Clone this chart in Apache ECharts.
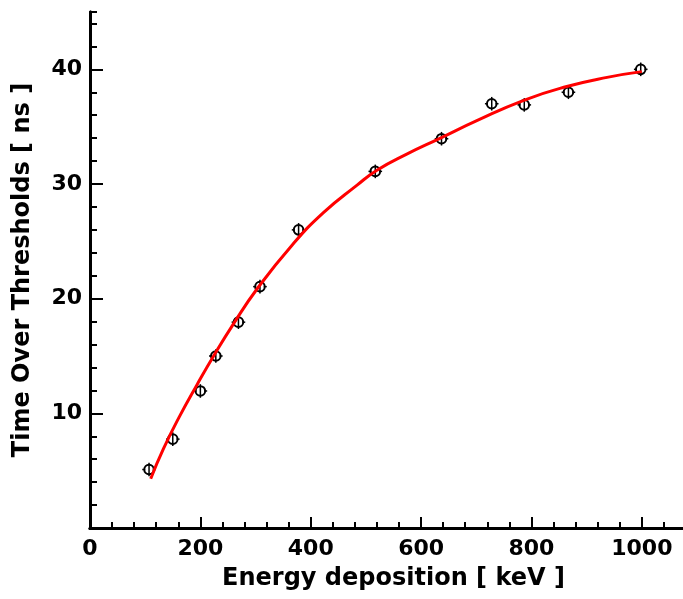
<!DOCTYPE html>
<html>
<head>
<meta charset="utf-8">
<script src="https://cdn.jsdelivr.net/npm/echarts@6/dist/echarts.min.js"></script>
<style>
  html, body { margin: 0; padding: 0; background: #fff; }
  #chart { width: 683px; height: 599px; }
</style>
</head>
<body>
<div id="chart"></div>
<script>
// measured points
var energy = [107, 150, 200, 228, 269, 308, 378, 517, 637, 728, 787, 867, 998];
var tot = [5.1, 7.75, 11.95, 15.0, 17.95, 21.05, 26.0, 31.1, 33.95, 37.0, 36.9, 38.0, 40.0];

// fitted curve
var fitEnergy = [110, 133, 163, 194, 224, 260, 302, 365, 423, 484, 520, 574, 635, 700, 786, 864, 937, 1000];
var fitTot = [4.3, 6.9, 9.8, 12.5, 15.0, 17.8, 20.8, 24.6, 27.5, 29.9, 31.2, 32.6, 34.0, 35.5, 37.3, 38.5, 39.3, 39.8];

var yTicks = [10, 20, 30, 40];

var font = 'DejaVu Sans';
var black = '#000';

var points = energy.map(function (e, i) { return [e, tot[i]]; });
var fit = fitEnergy.map(function (e, i) { return [e, fitTot[i]]; });

function renderPoint(params, api) {
    var p = api.coord([api.value(0), api.value(1)]);
    var r = 4.8;
    return {
        type: 'group',
        children: [
            { type: 'circle', shape: { cx: p[0], cy: p[1], r: r },
              style: { fill: 'none', stroke: black, lineWidth: 2 } },
            { type: 'line', shape: { x1: p[0], y1: p[1] - r - 2, x2: p[0], y2: p[1] + r + 2 },
              style: { stroke: black, lineWidth: 1.5 } },
            { type: 'line', shape: { x1: p[0] - r - 2, y1: p[1], x2: p[0] - r + 1, y2: p[1] },
              style: { stroke: black, lineWidth: 1.5 } },
            { type: 'line', shape: { x1: p[0] + r - 1, y1: p[1], x2: p[0] + r + 2, y2: p[1] },
              style: { stroke: black, lineWidth: 1.5 } }
        ]
    };
}

var frame = { show: true, lineStyle: { color: black, width: 3 } };
var label = { color: black, fontFamily: font, fontWeight: 'bold', fontSize: 22 };
var title = { color: black, fontFamily: font, fontWeight: 'bold', fontSize: 24 };
var rect = { left: 90, top: 12, width: 607, height: 516, outerBoundsMode: 'none', containLabel: false };

var chart = echarts.init(document.getElementById('chart'));

var option = {
    animation: false,
    grid: [
        Object.assign({}, rect),
        Object.assign({}, rect)
    ],
    xAxis: [
        {
            type: 'value', gridIndex: 0, position: 'bottom',
            min: 0, max: 1100, interval: 200,
            axisLine: frame,
            axisTick: { inside: true, length: 11, lineStyle: { color: black, width: 2 } },
            axisLabel: Object.assign({
                margin: 10, showMaxLabel: false,
                formatter: function (v) { return String(v); }
            }, label),
            splitLine: { show: false },
            name: 'Energy deposition [ keV ]',
            nameLocation: 'middle',
            nameGap: 39,
            nameTextStyle: title
        },
        {
            type: 'value', gridIndex: 0, position: 'top',
            min: 0, max: 1100,
            axisLine: frame, axisTick: { show: false }, axisLabel: { show: false },
            splitLine: { show: false }
        },
        {
            // minor ticks
            type: 'value', gridIndex: 1, position: 'bottom',
            min: 0, max: 1100, interval: 40,
            axisLine: { show: false },
            axisTick: { inside: true, length: 6, lineStyle: { color: black, width: 2 } },
            axisLabel: { show: false }, splitLine: { show: false }
        }
    ],
    yAxis: [
        {
            type: 'value', gridIndex: 0, position: 'left',
            min: 0, max: 45,
            axisLine: frame,
            axisTick: { inside: true, length: 13, customValues: yTicks,
                        lineStyle: { color: black, width: 2 } },
            axisLabel: Object.assign({ margin: 8, customValues: yTicks }, label),
            splitLine: { show: false },
            name: 'Time Over Thresholds [ ns ]',
            nameLocation: 'middle',
            nameGap: 55,
            nameTextStyle: title
        },
        {
            type: 'value', gridIndex: 0, position: 'right',
            min: 0, max: 45,
            axisLine: frame, axisTick: { show: false }, axisLabel: { show: false },
            splitLine: { show: false }
        },
        {
            // minor ticks
            type: 'value', gridIndex: 1, position: 'left',
            min: 0, max: 45, interval: 2,
            axisLine: { show: false },
            axisTick: { inside: true, length: 7, lineStyle: { color: black, width: 2 } },
            axisLabel: { show: false }, splitLine: { show: false }
        }
    ],
    series: [
        {
            type: 'custom',
            xAxisIndex: 0, yAxisIndex: 0,
            renderItem: renderPoint,
            data: points,
            z: 2
        },
        {
            type: 'line',
            xAxisIndex: 0, yAxisIndex: 0,
            data: fit,
            smooth: 0.5,
            symbol: 'none',
            lineStyle: { color: '#ff0000', width: 3 },
            z: 3
        }
    ]
};

chart.setOption(option);
</script>
</body>
</html>
